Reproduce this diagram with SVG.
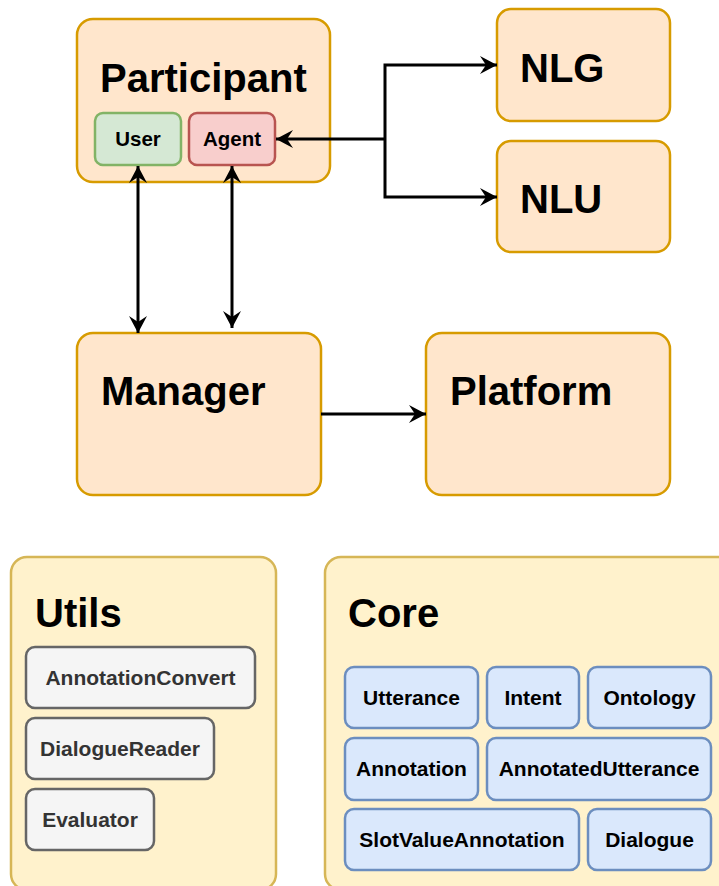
<svg xmlns="http://www.w3.org/2000/svg" width="719" height="886" viewBox="0 0 719 886">
  <defs>
    <marker id="arrow" viewBox="-18 -10 20 20" refX="0" refY="0" markerWidth="20" markerHeight="20" markerUnits="userSpaceOnUse" orient="auto-start-reverse">
      <path d="M0,0 L-17,-9 L-11,0 L-17,9 Z" fill="#000"/>
    </marker>
    <style>
      text { font-family: "Liberation Sans", Arial, Helvetica, sans-serif; font-weight: bold; }
      .module { fill: #ffe6cc; stroke: #d79b00; stroke-width: 2.5; }
      .pkg { fill: #fff2cc; stroke: #d6b656; stroke-width: 2.5; }
      .user { fill: #d5e8d4; stroke: #82b366; stroke-width: 2.5; }
      .agent { fill: #f8cecc; stroke: #b85450; stroke-width: 2.5; }
      .util { fill: #f5f5f5; stroke: #666666; stroke-width: 2.5; }
      .core { fill: #dae8fc; stroke: #6c8ebf; stroke-width: 2.5; }
      .title { font-size: 40px; fill: #000; }
      .small { font-size: 20.5px; fill: #000; text-anchor: middle; }
      .utext { font-size: 21px; fill: #333333; text-anchor: middle; }
      .ctext { font-size: 21px; fill: #000; text-anchor: middle; }
      .conn { fill: none; stroke: #000; stroke-width: 3; }
    </style>
  </defs>

  <!-- Participant with its User and Agent parts -->
  <g id="participant">
    <rect class="module" x="77" y="19" width="253" height="163" rx="16"/>
    <text class="title" x="100" y="92">Participant</text>
  </g>
  <g id="user">
    <rect class="user" x="95" y="113" width="86" height="52" rx="8"/>
    <text class="small" x="138" y="146">User</text>
  </g>
  <g id="agent">
    <rect class="agent" x="189" y="113" width="86" height="52" rx="8"/>
    <text class="small" x="232" y="146">Agent</text>
  </g>

  <g id="nlg">
    <rect class="module" x="497" y="9" width="173" height="112" rx="14"/>
    <text class="title" x="520" y="82">NLG</text>
  </g>
  <g id="nlu">
    <rect class="module" x="497" y="141" width="173" height="111" rx="14"/>
    <text class="title" x="520" y="213">NLU</text>
  </g>

  <g id="manager">
    <rect class="module" x="77" y="333" width="244" height="162" rx="16"/>
    <text class="title" x="101" y="405">Manager</text>
  </g>
  <g id="platform">
    <rect class="module" x="426" y="333" width="244" height="162" rx="16"/>
    <text class="title" x="450" y="405">Platform</text>
  </g>

  <!-- Utils package -->
  <g id="utils">
    <rect class="pkg" x="11" y="557" width="265" height="333" rx="16"/>
    <text class="title" x="35" y="627">Utils</text>
  </g>
  <g id="annotation-convert">
    <rect class="util" x="26" y="647" width="229" height="61" rx="9"/>
    <text class="utext" x="140.5" y="685">AnnotationConvert</text>
  </g>
  <g id="dialogue-reader">
    <rect class="util" x="26" y="718" width="188" height="61" rx="9"/>
    <text class="utext" x="120" y="756">DialogueReader</text>
  </g>
  <g id="evaluator">
    <rect class="util" x="26" y="789" width="128" height="61" rx="9"/>
    <text class="utext" x="90" y="827">Evaluator</text>
  </g>

  <!-- Core package -->
  <g id="core">
    <rect class="pkg" x="325" y="557" width="420" height="333" rx="16"/>
    <text class="title" x="348" y="627">Core</text>
  </g>
  <g id="utterance">
    <rect class="core" x="345" y="667" width="133" height="61" rx="9"/>
    <text class="ctext" x="411.5" y="705">Utterance</text>
  </g>
  <g id="intent">
    <rect class="core" x="487" y="667" width="92" height="61" rx="9"/>
    <text class="ctext" x="533" y="705">Intent</text>
  </g>
  <g id="ontology">
    <rect class="core" x="588" y="667" width="123" height="61" rx="9"/>
    <text class="ctext" x="649.5" y="705">Ontology</text>
  </g>
  <g id="annotation">
    <rect class="core" x="345" y="738" width="133" height="62" rx="9"/>
    <text class="ctext" x="411.5" y="776">Annotation</text>
  </g>
  <g id="annotated-utterance">
    <rect class="core" x="487" y="738" width="224" height="62" rx="9"/>
    <text class="ctext" x="599" y="776">AnnotatedUtterance</text>
  </g>
  <g id="slot-value-annotation">
    <rect class="core" x="345" y="809" width="234" height="61" rx="9"/>
    <text class="ctext" x="462" y="847">SlotValueAnnotation</text>
  </g>
  <g id="dialogue">
    <rect class="core" x="588" y="809" width="123" height="61" rx="9"/>
    <text class="ctext" x="649.5" y="847">Dialogue</text>
  </g>

  <!-- Connectors -->
  <g id="connectors">
    <path class="conn" d="M385,139 H276" marker-end="url(#arrow)"/>
    <path class="conn" d="M385,139 V65 H497" marker-end="url(#arrow)"/>
    <path class="conn" d="M385,139 V197 H497" marker-end="url(#arrow)"/>
    <path class="conn" d="M138,166 V333" marker-start="url(#arrow)" marker-end="url(#arrow)"/>
    <path class="conn" d="M232,166 V328" marker-start="url(#arrow)" marker-end="url(#arrow)"/>
    <path class="conn" d="M321,414 H426" marker-end="url(#arrow)"/>
  </g>
</svg>
